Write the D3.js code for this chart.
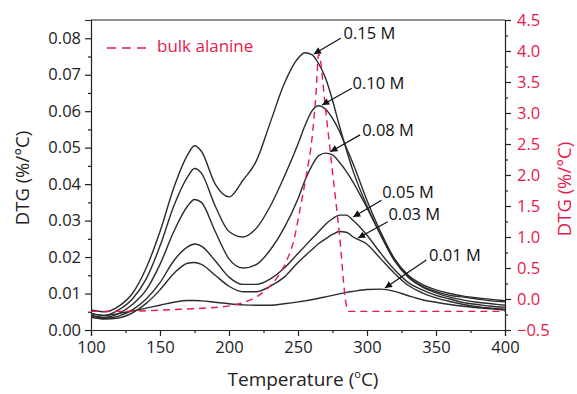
<!DOCTYPE html>
<html>
<head>
<meta charset="utf-8">
<script src="https://cdn.jsdelivr.net/npm/d3@7"></script>
<style>
  html, body { margin: 0; padding: 0; background: #fff; }
  svg { display: block; }
  text { font-family: "Open Sans", "Noto Sans", sans-serif; }
</style>
</head>
<body>
<svg id="chart" width="577" height="394"></svg>
<script>
// Temperature grid (°C) shared by the DTG curves
const temps = [100, 110, 120, 130, 140, 150, 160, 170, 175, 180, 190, 200, 210, 220, 230, 240, 250, 255, 260, 265, 270, 275, 280, 285, 290, 300, 310, 320, 330, 340, 350, 360, 370, 380, 390, 400];

// DTG (%/°C) for each concentration, left axis
const dtg015 = [0.0055, 0.0050, 0.0065, 0.0100, 0.0170, 0.0270, 0.0390, 0.0480, 0.0505, 0.0490, 0.0400, 0.0365, 0.0410, 0.0465, 0.0570, 0.0675, 0.0745, 0.0760, 0.0755, 0.0730, 0.0690, 0.0630, 0.0560, 0.0495, 0.0435, 0.0340, 0.0260, 0.0190, 0.0145, 0.0120, 0.0105, 0.0095, 0.0090, 0.0085, 0.0080, 0.0077];
const dtg010 = [0.0045, 0.0040, 0.0055, 0.0085, 0.0140, 0.0230, 0.0340, 0.0420, 0.0443, 0.0430, 0.0340, 0.0270, 0.0255, 0.0280, 0.0340, 0.0420, 0.0510, 0.0560, 0.0600, 0.0615, 0.0605, 0.0580, 0.0545, 0.0500, 0.0455, 0.0355, 0.0268, 0.0195, 0.0150, 0.0125, 0.0110, 0.0100, 0.0093, 0.0088, 0.0084, 0.0080];
const dtg008 = [0.0040, 0.0035, 0.0045, 0.0070, 0.0110, 0.0180, 0.0270, 0.0340, 0.0358, 0.0350, 0.0270, 0.0195, 0.0170, 0.0180, 0.0220, 0.0280, 0.0360, 0.0410, 0.0450, 0.0478, 0.0485, 0.0480, 0.0460, 0.0435, 0.0405, 0.0335, 0.0260, 0.0190, 0.0145, 0.0118, 0.0102, 0.0090, 0.0082, 0.0076, 0.0072, 0.0068];
const dtg005 = [0.0040, 0.0032, 0.0038, 0.0055, 0.0085, 0.0130, 0.0190, 0.0228, 0.0236, 0.0230, 0.0190, 0.0145, 0.0125, 0.0125, 0.0140, 0.0170, 0.0210, 0.0230, 0.0250, 0.0270, 0.0290, 0.0305, 0.0315, 0.0315, 0.0300, 0.0260, 0.0210, 0.0165, 0.0130, 0.0110, 0.0095, 0.0085, 0.0075, 0.0070, 0.0065, 0.0062];
const dtg003 = [0.0035, 0.0030, 0.0033, 0.0047, 0.0073, 0.0110, 0.0155, 0.0183, 0.0185, 0.0180, 0.0150, 0.0120, 0.0105, 0.0105, 0.0120, 0.0145, 0.0185, 0.0203, 0.0220, 0.0237, 0.0250, 0.0262, 0.0270, 0.0268, 0.0255, 0.0235, 0.0195, 0.0155, 0.0122, 0.0102, 0.0088, 0.0078, 0.0070, 0.0064, 0.0060, 0.0057];
const dtg001 = [0.0045, 0.0040, 0.0045, 0.0052, 0.0060, 0.0068, 0.0076, 0.0081, 0.0081, 0.0080, 0.0076, 0.0072, 0.0069, 0.0068, 0.0068, 0.0072, 0.0077, 0.0080, 0.0083, 0.0087, 0.0091, 0.0095, 0.0099, 0.0103, 0.0106, 0.0111, 0.0112, 0.0106, 0.0094, 0.0083, 0.0076, 0.0070, 0.0065, 0.0061, 0.0058, 0.0055];

const seriesNames = ["0.15 M", "0.10 M", "0.08 M", "0.05 M", "0.03 M", "0.01 M"];
const seriesValues = [dtg015, dtg010, dtg008, dtg005, dtg003, dtg001];

// Bulk alanine DTG (%/°C), right axis
const bulkTemps = [100, 120, 140, 160, 180, 200, 215, 227, 235, 242, 247, 251, 256, 260, 263, 265, 270, 275, 280, 285, 287, 300, 350, 400];
const bulkValues = [-0.20, -0.20, -0.19, -0.17, -0.15, -0.11, -0.02, 0.15, 0.35, 0.63, 0.95, 1.39, 2.00, 2.56, 3.30, 3.95, 3.05, 2.05, 1.05, -0.10, -0.20, -0.20, -0.20, -0.20];

// Annotation labels with arrow tail and tip, in (T, DTG) units
const labelPos = [[283, 0.0809], [289.5, 0.0672], [296.5, 0.0545], [311, 0.0375], [315.5, 0.0315], [345, 0.0200]];
const arrowTail = [[281, 0.0800], [289, 0.0663], [295, 0.0535], [310.5, 0.0356], [315, 0.0297], [343, 0.0192]];
const arrowTip = [[261.5, 0.0757], [267.5, 0.0617], [273.5, 0.0489], [290, 0.0310], [293.5, 0.0252], [313, 0.0115]];

const xTicks = [100, 150, 200, 250, 300, 350, 400];
const leftTicks = [0, 0.01, 0.02, 0.03, 0.04, 0.05, 0.06, 0.07, 0.08];
const rightTicks = [-0.5, 0, 0.5, 1, 1.5, 2, 2.5, 3, 3.5, 4, 4.5];

const red = "#e8194c";
const ink = "#222";

const svg = d3.select("#chart");
const plotLeft = 91, plotRight = 505, plotTop = 20, plotBottom = 330;

const x = d3.scaleLinear().domain([100, 400]).range([plotLeft, plotRight]);
const yL = d3.scaleLinear().domain([0, 0.085]).range([plotBottom, plotTop]);
const yR = d3.scaleLinear().domain([-0.5, 4.5]).range([plotBottom, plotTop]);

// Frame top edge
svg.append("line")
  .attr("x1", plotLeft).attr("x2", plotRight).attr("y1", plotTop).attr("y2", plotTop)
  .attr("stroke", ink).attr("stroke-width", 1.2);

// Axes
const minorX = d3.range(125, 400, 50);
const minorL = d3.range(0.005, 0.085, 0.01);
const minorR = d3.range(-0.25, 4.5, 0.5);

function styleAxis(g, labelColor) {
  g.selectAll("path.domain").attr("stroke", ink).attr("stroke-width", 1.2);
  g.selectAll(".tick line").attr("stroke", ink).attr("stroke-width", 1.2);
  g.selectAll(".tick text")
    .attr("fill", labelColor)
    .style("font-size", "16.5px")
    .style("font-family", '"Open Sans", "Noto Sans", sans-serif');
}
function styleMinor(g) {
  g.select("path.domain").remove();
  g.selectAll("line").attr("stroke", ink).attr("stroke-width", 1.2);
}

const gx = svg.append("g").attr("transform", `translate(0,${plotBottom})`)
  .call(d3.axisBottom(x).tickValues(xTicks).tickFormat(d3.format("d")).tickSizeOuter(0).tickSize(6).tickPadding(5));
styleAxis(gx, ink);
svg.append("g").attr("transform", `translate(0,${plotBottom})`)
  .call(d3.axisBottom(x).tickValues(minorX).tickFormat("").tickSize(3))
  .call(styleMinor);

const gl = svg.append("g").attr("transform", `translate(${plotLeft},0)`)
  .call(d3.axisLeft(yL).tickValues(leftTicks).tickFormat(d3.format(".2f")).tickSizeOuter(0).tickSize(6).tickPadding(4));
styleAxis(gl, ink);
svg.append("g").attr("transform", `translate(${plotLeft},0)`)
  .call(d3.axisLeft(yL).tickValues(minorL).tickFormat("").tickSize(3))
  .call(styleMinor);

const gr = svg.append("g").attr("transform", `translate(${plotRight},0)`)
  .call(d3.axisRight(yR).tickValues(rightTicks).tickFormat(d3.format(".1f")).tickSizeOuter(0).tickSize(6).tickPadding(6));
styleAxis(gr, red);
svg.append("g").attr("transform", `translate(${plotRight},0)`)
  .call(d3.axisRight(yR).tickValues(minorR).tickFormat("").tickSize(3))
  .call(styleMinor);

// Axis titles
const xTitle = svg.append("text")
  .attr("x", (plotLeft + plotRight) / 2 + 5).attr("y", 386)
  .attr("text-anchor", "middle").attr("fill", ink)
  .style("font-size", "19px");
xTitle.append("tspan").text("Temperature (");
xTitle.append("tspan").text("o").style("font-size", "11px").attr("dy", -8);
xTitle.append("tspan").text("C)").attr("dy", 8);

svg.append("text")
  .attr("transform", `translate(24,${(plotTop + plotBottom) / 2 + 3}) rotate(-90)`)
  .attr("text-anchor", "middle").attr("dominant-baseline", "middle")
  .attr("fill", ink).style("font-size", "18.5px")
  .text("DTG (%/°C)");

svg.append("text")
  .attr("transform", `translate(566,${(plotTop + plotBottom) / 2 + 14}) rotate(-90)`)
  .attr("text-anchor", "middle").attr("dominant-baseline", "middle")
  .attr("fill", red).style("font-size", "18.5px")
  .text("DTG (%/°C)");

// Clip curves to the plot area
svg.append("clipPath").attr("id", "plot-clip")
  .append("rect").attr("x", plotLeft).attr("y", plotTop)
  .attr("width", plotRight - plotLeft).attr("height", plotBottom - plotTop);

const plot = svg.append("g").attr("clip-path", "url(#plot-clip)");

const lineL = d3.line()
  .x(d => x(d[0])).y(d => yL(d[1]))
  .curve(d3.curveMonotoneX);

seriesValues.forEach(vals => {
  plot.append("path")
    .datum(temps.map((t, i) => [t, vals[i]]))
    .attr("d", lineL)
    .attr("fill", "none")
    .attr("stroke", "#2b2b2b")
    .attr("stroke-width", 1.4);
});

const lineR = d3.line()
  .x(d => x(d[0])).y(d => yR(d[1]))
  .curve(d3.curveMonotoneX);

plot.append("path")
  .datum(bulkTemps.map((t, i) => [t, bulkValues[i]]))
  .attr("d", lineR)
  .attr("fill", "none")
  .attr("stroke", red)
  .attr("stroke-width", 1.4)
  .attr("stroke-dasharray", "7,5");

// Legend
svg.append("line")
  .attr("x1", 107).attr("x2", 148).attr("y1", 48).attr("y2", 48)
  .attr("stroke", red).attr("stroke-width", 1.5).attr("stroke-dasharray", "9,6");
svg.append("text")
  .attr("x", 157).attr("y", 47)
  .attr("dominant-baseline", "middle")
  .attr("fill", red).style("font-size", "17px")
  .text("bulk alanine");

// Arrow heads
svg.append("defs").append("marker")
  .attr("id", "arrowhead")
  .attr("viewBox", "0 0 10 10")
  .attr("refX", 10).attr("refY", 5)
  .attr("markerWidth", 9).attr("markerHeight", 7)
  .attr("markerUnits", "userSpaceOnUse")
  .attr("orient", "auto")
  .append("path").attr("d", "M0,0 L10,5 L0,10 Z").attr("fill", "#111");

seriesNames.forEach((t, i) => {
  svg.append("line")
    .attr("x1", x(arrowTail[i][0])).attr("y1", yL(arrowTail[i][1]))
    .attr("x2", x(arrowTip[i][0])).attr("y2", yL(arrowTip[i][1]))
    .attr("stroke", "#111").attr("stroke-width", 1.2)
    .attr("marker-end", "url(#arrowhead)");
  svg.append("text")
    .attr("x", x(labelPos[i][0])).attr("y", yL(labelPos[i][1]))
    .attr("dominant-baseline", "middle")
    .attr("fill", "#111").style("font-size", "16.5px")
    .text(t);
});
</script>
</body>
</html>
